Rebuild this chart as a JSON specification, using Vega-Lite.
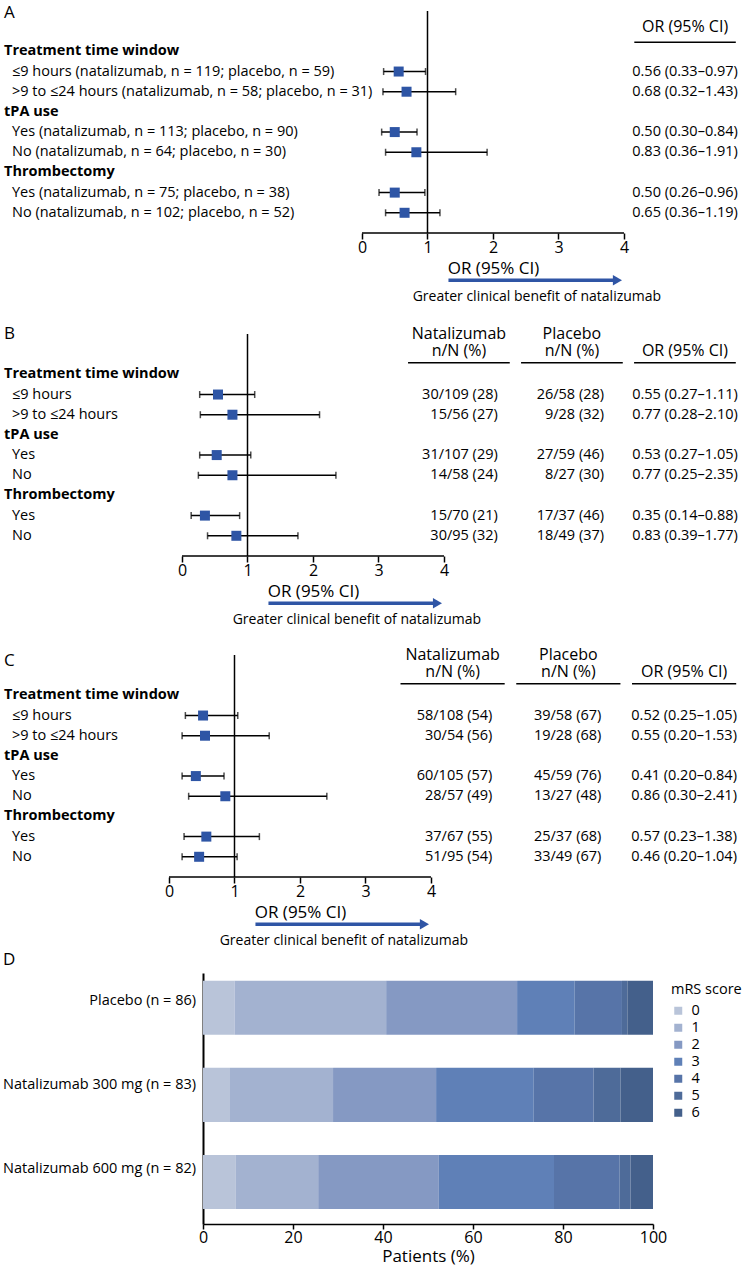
{
"$schema": "https://vega.github.io/schema/vega-lite/v6.json",
"padding": {"left": 3, "top": 4, "right": 2, "bottom": 2},
"background": "white",
"datasets": {
"A": [
{"row":"r1","label":"Treatment time window","bold":true},
{"row":"r2","label":"≤9 hours (natalizumab, n = 119; placebo, n = 59)","bold":false,"or":0.56,"lo":0.33,"hi":0.97,"ci":"0.56 (0.33–0.97)"},
{"row":"r3","label":">9 to ≤24 hours (natalizumab, n = 58; placebo, n = 31)","bold":false,"or":0.68,"lo":0.32,"hi":1.43,"ci":"0.68 (0.32–1.43)"},
{"row":"r4","label":"tPA use","bold":true},
{"row":"r5","label":"Yes (natalizumab, n = 113; placebo, n = 90)","bold":false,"or":0.50,"lo":0.30,"hi":0.84,"ci":"0.50 (0.30–0.84)"},
{"row":"r6","label":"No (natalizumab, n = 64; placebo, n = 30)","bold":false,"or":0.83,"lo":0.36,"hi":1.91,"ci":"0.83 (0.36–1.91)"},
{"row":"r7","label":"Thrombectomy","bold":true},
{"row":"r8","label":"Yes (natalizumab, n = 75; placebo, n = 38)","bold":false,"or":0.50,"lo":0.26,"hi":0.96,"ci":"0.50 (0.26–0.96)"},
{"row":"r9","label":"No (natalizumab, n = 102; placebo, n = 52)","bold":false,"or":0.65,"lo":0.36,"hi":1.19,"ci":"0.65 (0.36–1.19)"}
],
"B": [
{"row":"r1","label":"Treatment time window","bold":true},
{"row":"r2","label":"≤9 hours","bold":false,"or":0.55,"lo":0.27,"hi":1.11,"nat":"30/109 (28)","plac":"26/58 (28)","ci":"0.55 (0.27–1.11)"},
{"row":"r3","label":">9 to ≤24 hours","bold":false,"or":0.77,"lo":0.28,"hi":2.10,"nat":"15/56 (27)","plac":"9/28 (32)","ci":"0.77 (0.28–2.10)"},
{"row":"r4","label":"tPA use","bold":true},
{"row":"r5","label":"Yes","bold":false,"or":0.53,"lo":0.27,"hi":1.05,"nat":"31/107 (29)","plac":"27/59 (46)","ci":"0.53 (0.27–1.05)"},
{"row":"r6","label":"No","bold":false,"or":0.77,"lo":0.25,"hi":2.35,"nat":"14/58 (24)","plac":"8/27 (30)","ci":"0.77 (0.25–2.35)"},
{"row":"r7","label":"Thrombectomy","bold":true},
{"row":"r8","label":"Yes","bold":false,"or":0.35,"lo":0.14,"hi":0.88,"nat":"15/70 (21)","plac":"17/37 (46)","ci":"0.35 (0.14–0.88)"},
{"row":"r9","label":"No","bold":false,"or":0.83,"lo":0.39,"hi":1.77,"nat":"30/95 (32)","plac":"18/49 (37)","ci":"0.83 (0.39–1.77)"}
],
"C": [
{"row":"r1","label":"Treatment time window","bold":true},
{"row":"r2","label":"≤9 hours","bold":false,"or":0.52,"lo":0.25,"hi":1.05,"nat":"58/108 (54)","plac":"39/58 (67)","ci":"0.52 (0.25–1.05)"},
{"row":"r3","label":">9 to ≤24 hours","bold":false,"or":0.55,"lo":0.20,"hi":1.53,"nat":"30/54 (56)","plac":"19/28 (68)","ci":"0.55 (0.20–1.53)"},
{"row":"r4","label":"tPA use","bold":true},
{"row":"r5","label":"Yes","bold":false,"or":0.41,"lo":0.20,"hi":0.84,"nat":"60/105 (57)","plac":"45/59 (76)","ci":"0.41 (0.20–0.84)"},
{"row":"r6","label":"No","bold":false,"or":0.86,"lo":0.30,"hi":2.41,"nat":"28/57 (49)","plac":"13/27 (48)","ci":"0.86 (0.30–2.41)"},
{"row":"r7","label":"Thrombectomy","bold":true},
{"row":"r8","label":"Yes","bold":false,"or":0.57,"lo":0.23,"hi":1.38,"nat":"37/67 (55)","plac":"25/37 (68)","ci":"0.57 (0.23–1.38)"},
{"row":"r9","label":"No","bold":false,"or":0.46,"lo":0.20,"hi":1.04,"nat":"51/95 (54)","plac":"33/49 (67)","ci":"0.46 (0.20–1.04)"}
],
"hdrA": [{"col":"or","t":"OR (95% CI)"}],
"hdrBC": [{"col":"nat","t":"Natalizumab\nn/N (%)"},{"col":"plac","t":"Placebo\nn/N (%)"},{"col":"or","t":"OR (95% CI)"}],
"caption": [{"caption":"Greater clinical benefit of natalizumab"}],
"ref": [{"ref":1}],
"D": [
{"group":"Placebo (n = 86)","score":0,"pct":7.0},
{"group":"Placebo (n = 86)","score":1,"pct":33.7},
{"group":"Placebo (n = 86)","score":2,"pct":29.1},
{"group":"Placebo (n = 86)","score":3,"pct":12.8},
{"group":"Placebo (n = 86)","score":4,"pct":10.5},
{"group":"Placebo (n = 86)","score":5,"pct":1.2},
{"group":"Placebo (n = 86)","score":6,"pct":5.7},
{"group":"Natalizumab 300 mg (n = 83)","score":0,"pct":6.0},
{"group":"Natalizumab 300 mg (n = 83)","score":1,"pct":22.9},
{"group":"Natalizumab 300 mg (n = 83)","score":2,"pct":22.9},
{"group":"Natalizumab 300 mg (n = 83)","score":3,"pct":21.7},
{"group":"Natalizumab 300 mg (n = 83)","score":4,"pct":13.3},
{"group":"Natalizumab 300 mg (n = 83)","score":5,"pct":6.0},
{"group":"Natalizumab 300 mg (n = 83)","score":6,"pct":7.2},
{"group":"Natalizumab 600 mg (n = 82)","score":0,"pct":7.3},
{"group":"Natalizumab 600 mg (n = 82)","score":1,"pct":18.3},
{"group":"Natalizumab 600 mg (n = 82)","score":2,"pct":26.8},
{"group":"Natalizumab 600 mg (n = 82)","score":3,"pct":25.6},
{"group":"Natalizumab 600 mg (n = 82)","score":4,"pct":14.6},
{"group":"Natalizumab 600 mg (n = 82)","score":5,"pct":2.4},
{"group":"Natalizumab 600 mg (n = 82)","score":6,"pct":5.0}
]
},
"spacing": 3,
"resolve": {"scale": {"color": "independent"}, "legend": {"color": "independent"}},
"vconcat": [
{"spacing": 21, "vconcat": [
{"title": {"text": "A", "offset": -12}, "spacing": 0, "bounds": "flush", "hconcat": [
  {"width": 357.7, "height": 282.5, "data": {"name": "A"},
   "layer": [
    {"transform": [{"filter": "datum.bold"}], "mark": {"type": "text", "align": "left", "fontWeight": "bold"},
     "encoding": {"x": {"datum": 0, "type": "quantitative", "scale": {"domain": [0, 1]}, "axis": null}, "y": {"field": "row", "type": "nominal", "scale": {"type": "point", "domain": ["top","h","r1","r2","r3","r4","r5","r6","r7","r8","r9","bot","gap","arrow","cap"], "padding": 0}, "axis": null}, "text": {"field": "label"}}},
    {"transform": [{"filter": "!datum.bold"}], "mark": {"type": "text", "align": "left", "dx": 8},
     "encoding": {"x": {"datum": 0, "type": "quantitative"}, "y": {"field": "row", "type": "nominal"}, "text": {"field": "label"}}}
   ]},
  {"width": 373.8, "height": 282.5,
   "resolve": {"scale": {"x": "independent"}, "axis": {"x": "independent"}},
   "layer": [
    {"layer": [
     {"data": {"name": "ref"}, "mark": {"type": "rule", "color": "black", "strokeWidth": 1.5},
      "encoding": {"x": {"field": "ref", "type": "quantitative", "title": "OR (95% CI)", "scale": {"domain": [0, 5.707], "nice": false, "zero": false}, "axis": {"values": [0,1,2,3,4], "format": "d", "domain": false, "tickSize": 6, "labelPadding": 0, "titlePadding": 5, "labelFlush": false, "offset": -60.5, "titleX": 131}},
       "y": {"datum": "top", "type": "nominal", "scale": {"type": "point", "domain": ["top","h","r1","r2","r3","r4","r5","r6","r7","r8","r9","bot","gap","arrow","cap"], "padding": 0}, "axis": null}, "y2": {"datum": "bot"}}},
     {"data": {"name": "ref"}, "mark": {"type": "rule", "color": "black", "strokeWidth": 1.5},
      "encoding": {"x": {"datum": 0, "type": "quantitative"}, "x2": {"datum": 4}, "y": {"datum": "bot", "type": "nominal"}}},
     {"data": {"name": "A"}, "transform": [{"filter": "isValid(datum.or)"}], "mark": {"type": "rule", "color": "black", "strokeWidth": 1.5},
      "encoding": {"x": {"field": "lo", "type": "quantitative", "title": "OR (95% CI)"}, "x2": {"field": "hi"}, "y": {"field": "row", "type": "nominal"}}},
     {"data": {"name": "A"}, "transform": [{"filter": "isValid(datum.or)"}], "mark": {"type": "tick", "color": "black", "thickness": 1.5, "size": 7, "orient": "vertical"},
      "encoding": {"x": {"field": "lo", "type": "quantitative", "title": "OR (95% CI)"}, "y": {"field": "row", "type": "nominal"}}},
     {"data": {"name": "A"}, "transform": [{"filter": "isValid(datum.or)"}], "mark": {"type": "tick", "color": "black", "thickness": 1.5, "size": 7, "orient": "vertical"},
      "encoding": {"x": {"field": "hi", "type": "quantitative", "title": "OR (95% CI)"}, "y": {"field": "row", "type": "nominal"}}},
     {"data": {"name": "A"}, "transform": [{"filter": "isValid(datum.or)"}], "mark": {"type": "point", "shape": "square", "filled": true, "size": 100, "color": "#2e55a5", "opacity": 1},
      "encoding": {"x": {"field": "or", "type": "quantitative", "title": "OR (95% CI)"}, "y": {"field": "row", "type": "nominal"}}},
     {"data": {"name": "caption"}, "mark": {"type": "rule", "color": "#2f55a5", "strokeWidth": 3.5, "yOffset": 7},
      "encoding": {"x": {"datum": 1.32, "type": "quantitative"}, "x2": {"datum": 3.88}, "y": {"datum": "arrow", "type": "nominal"}}},
     {"data": {"name": "caption"}, "mark": {"type": "point", "shape": "triangle-right", "filled": true, "size": 110, "color": "#2f55a5", "opacity": 1, "yOffset": 7},
      "encoding": {"x": {"datum": 3.9, "type": "quantitative"}, "y": {"datum": "arrow", "type": "nominal"}}},
     {"data": {"name": "caption"}, "mark": {"type": "text", "fontSize": 14, "dy": 3.5},
      "encoding": {"x": {"datum": 2.67, "type": "quantitative"}, "y": {"datum": "cap", "type": "nominal"}, "text": {"field": "caption"}}}
    ]},
    {"layer": [
     {"data": {"name": "hdrA"}, "mark": {"type": "text", "baseline": "top", "fontSize": 16, "dy": -12.1},
      "encoding": {"x": {"field": "col", "type": "nominal", "scale": {"type": "band", "domain": ["nat","plac","or"], "paddingInner": 0.1, "paddingOuter": 0.2075, "align": 1}, "axis": null}, "y": {"datum": "h", "type": "nominal"}, "text": {"field": "t"}}},
     {"data": {"name": "hdrA"}, "mark": {"type": "bar", "height": 1.5, "yOffset": 11, "color": "black"},
      "encoding": {"x": {"field": "col", "type": "nominal"}, "y": {"datum": "h", "type": "nominal"}}},
     {"data": {"name": "A"}, "transform": [{"filter": "isValid(datum.ci)"}], "mark": {"type": "text"},
      "encoding": {"x": {"datum": "or", "type": "nominal"}, "y": {"field": "row", "type": "nominal"}, "text": {"field": "ci"}}}
    ]}
   ]}
]},
{"spacing": 20, "vconcat": [
{"title": {"text": "B", "offset": -17}, "spacing": 0, "bounds": "flush", "hconcat": [
  {"width": 177.7, "height": 282.5, "data": {"name": "B"},
   "layer": [
    {"transform": [{"filter": "datum.bold"}], "mark": {"type": "text", "align": "left", "fontWeight": "bold"},
     "encoding": {"x": {"datum": 0, "type": "quantitative", "scale": {"domain": [0, 1]}, "axis": null}, "y": {"field": "row", "type": "nominal", "scale": {"type": "point", "domain": ["top","h","r1","r2","r3","r4","r5","r6","r7","r8","r9","bot","gap","arrow","cap"], "padding": 0}, "axis": null}, "text": {"field": "label"}}},
    {"transform": [{"filter": "!datum.bold"}], "mark": {"type": "text", "align": "left", "dx": 8},
     "encoding": {"x": {"datum": 0, "type": "quantitative"}, "y": {"field": "row", "type": "nominal"}, "text": {"field": "label"}}}
   ]},
  {"width": 553.8, "height": 282.5,
   "resolve": {"scale": {"x": "independent"}, "axis": {"x": "independent"}},
   "layer": [
    {"layer": [
     {"data": {"name": "ref"}, "mark": {"type": "rule", "color": "black", "strokeWidth": 1.5},
      "encoding": {"x": {"field": "ref", "type": "quantitative", "title": "OR (95% CI)", "scale": {"domain": [0, 8.455], "nice": false, "zero": false}, "axis": {"values": [0,1,2,3,4], "format": "d", "domain": false, "tickSize": 6, "labelPadding": 0, "titlePadding": 5, "labelFlush": false, "offset": -60.5, "titleX": 131}},
       "y": {"datum": "top", "type": "nominal", "scale": {"type": "point", "domain": ["top","h","r1","r2","r3","r4","r5","r6","r7","r8","r9","bot","gap","arrow","cap"], "padding": 0}, "axis": null}, "y2": {"datum": "bot"}}},
     {"data": {"name": "ref"}, "mark": {"type": "rule", "color": "black", "strokeWidth": 1.5},
      "encoding": {"x": {"datum": 0, "type": "quantitative"}, "x2": {"datum": 4}, "y": {"datum": "bot", "type": "nominal"}}},
     {"data": {"name": "B"}, "transform": [{"filter": "isValid(datum.or)"}], "mark": {"type": "rule", "color": "black", "strokeWidth": 1.5},
      "encoding": {"x": {"field": "lo", "type": "quantitative", "title": "OR (95% CI)"}, "x2": {"field": "hi"}, "y": {"field": "row", "type": "nominal"}}},
     {"data": {"name": "B"}, "transform": [{"filter": "isValid(datum.or)"}], "mark": {"type": "tick", "color": "black", "thickness": 1.5, "size": 7, "orient": "vertical"},
      "encoding": {"x": {"field": "lo", "type": "quantitative", "title": "OR (95% CI)"}, "y": {"field": "row", "type": "nominal"}}},
     {"data": {"name": "B"}, "transform": [{"filter": "isValid(datum.or)"}], "mark": {"type": "tick", "color": "black", "thickness": 1.5, "size": 7, "orient": "vertical"},
      "encoding": {"x": {"field": "hi", "type": "quantitative", "title": "OR (95% CI)"}, "y": {"field": "row", "type": "nominal"}}},
     {"data": {"name": "B"}, "transform": [{"filter": "isValid(datum.or)"}], "mark": {"type": "point", "shape": "square", "filled": true, "size": 100, "color": "#2e55a5", "opacity": 1},
      "encoding": {"x": {"field": "or", "type": "quantitative", "title": "OR (95% CI)"}, "y": {"field": "row", "type": "nominal"}}},
     {"data": {"name": "caption"}, "mark": {"type": "rule", "color": "#2f55a5", "strokeWidth": 3.5, "yOffset": 7},
      "encoding": {"x": {"datum": 1.32, "type": "quantitative"}, "x2": {"datum": 3.88}, "y": {"datum": "arrow", "type": "nominal"}}},
     {"data": {"name": "caption"}, "mark": {"type": "point", "shape": "triangle-right", "filled": true, "size": 110, "color": "#2f55a5", "opacity": 1, "yOffset": 7},
      "encoding": {"x": {"datum": 3.9, "type": "quantitative"}, "y": {"datum": "arrow", "type": "nominal"}}},
     {"data": {"name": "caption"}, "mark": {"type": "text", "fontSize": 14, "dy": 3.5},
      "encoding": {"x": {"datum": 2.67, "type": "quantitative"}, "y": {"datum": "cap", "type": "nominal"}, "text": {"field": "caption"}}}
    ]},
    {"layer": [
     {"data": {"name": "hdrBC"}, "transform": [{"filter": "datum.col != 'or'"}], "mark": {"type": "text", "baseline": "top", "fontSize": 16, "lineBreak": "\n", "lineHeight": 17, "dy": -28.1},
      "encoding": {"x": {"field": "col", "type": "nominal", "scale": {"type": "band", "domain": ["nat","plac","or"], "paddingInner": 0.1, "paddingOuter": 1.0057, "align": 1}, "axis": null}, "y": {"datum": "h", "type": "nominal"}, "text": {"field": "t"}}},
     {"data": {"name": "hdrBC"}, "transform": [{"filter": "datum.col == 'or'"}], "mark": {"type": "text", "baseline": "top", "fontSize": 16, "dy": -11.1},
      "encoding": {"x": {"field": "col", "type": "nominal"}, "y": {"datum": "h", "type": "nominal"}, "text": {"field": "t"}}},
     {"data": {"name": "hdrBC"}, "mark": {"type": "bar", "height": 1.5, "yOffset": 8.5, "color": "black"},
      "encoding": {"x": {"field": "col", "type": "nominal"}, "y": {"datum": "h", "type": "nominal"}}},
     {"data": {"name": "B"}, "transform": [{"filter": "isValid(datum.nat)"}], "mark": {"type": "text", "align": "right"},
      "encoding": {"x": {"datum": "nat", "type": "nominal", "bandPosition": 0.882}, "y": {"field": "row", "type": "nominal"}, "text": {"field": "nat"}}},
     {"data": {"name": "B"}, "transform": [{"filter": "isValid(datum.plac)"}], "mark": {"type": "text", "align": "right"},
      "encoding": {"x": {"datum": "plac", "type": "nominal", "bandPosition": 0.816}, "y": {"field": "row", "type": "nominal"}, "text": {"field": "plac"}}},
     {"data": {"name": "B"}, "transform": [{"filter": "isValid(datum.ci)"}], "mark": {"type": "text"},
      "encoding": {"x": {"datum": "or", "type": "nominal"}, "y": {"field": "row", "type": "nominal"}, "text": {"field": "ci"}}}
    ]}
   ]}
]},
{"title": {"text": "C", "offset": -23}, "spacing": 0, "bounds": "flush", "hconcat": [
  {"width": 164.3, "height": 282.5, "data": {"name": "C"},
   "layer": [
    {"transform": [{"filter": "datum.bold"}], "mark": {"type": "text", "align": "left", "fontWeight": "bold"},
     "encoding": {"x": {"datum": 0, "type": "quantitative", "scale": {"domain": [0, 1]}, "axis": null}, "y": {"field": "row", "type": "nominal", "scale": {"type": "point", "domain": ["top","h","r1","r2","r3","r4","r5","r6","r7","r8","r9","bot","gap","arrow","cap"], "padding": 0}, "axis": null}, "text": {"field": "label"}}},
    {"transform": [{"filter": "!datum.bold"}], "mark": {"type": "text", "align": "left", "dx": 8},
     "encoding": {"x": {"datum": 0, "type": "quantitative"}, "y": {"field": "row", "type": "nominal"}, "text": {"field": "label"}}}
   ]},
  {"width": 567.2, "height": 282.5,
   "resolve": {"scale": {"x": "independent"}, "axis": {"x": "independent"}},
   "layer": [
    {"layer": [
     {"data": {"name": "ref"}, "mark": {"type": "rule", "color": "black", "strokeWidth": 1.5},
      "encoding": {"x": {"field": "ref", "type": "quantitative", "title": "OR (95% CI)", "scale": {"domain": [0, 8.66], "nice": false, "zero": false}, "axis": {"values": [0,1,2,3,4], "format": "d", "domain": false, "tickSize": 6, "labelPadding": 0, "titlePadding": 5, "labelFlush": false, "offset": -60.5, "titleX": 131}},
       "y": {"datum": "top", "type": "nominal", "scale": {"type": "point", "domain": ["top","h","r1","r2","r3","r4","r5","r6","r7","r8","r9","bot","gap","arrow","cap"], "padding": 0}, "axis": null}, "y2": {"datum": "bot"}}},
     {"data": {"name": "ref"}, "mark": {"type": "rule", "color": "black", "strokeWidth": 1.5},
      "encoding": {"x": {"datum": 0, "type": "quantitative"}, "x2": {"datum": 4}, "y": {"datum": "bot", "type": "nominal"}}},
     {"data": {"name": "C"}, "transform": [{"filter": "isValid(datum.or)"}], "mark": {"type": "rule", "color": "black", "strokeWidth": 1.5},
      "encoding": {"x": {"field": "lo", "type": "quantitative", "title": "OR (95% CI)"}, "x2": {"field": "hi"}, "y": {"field": "row", "type": "nominal"}}},
     {"data": {"name": "C"}, "transform": [{"filter": "isValid(datum.or)"}], "mark": {"type": "tick", "color": "black", "thickness": 1.5, "size": 7, "orient": "vertical"},
      "encoding": {"x": {"field": "lo", "type": "quantitative", "title": "OR (95% CI)"}, "y": {"field": "row", "type": "nominal"}}},
     {"data": {"name": "C"}, "transform": [{"filter": "isValid(datum.or)"}], "mark": {"type": "tick", "color": "black", "thickness": 1.5, "size": 7, "orient": "vertical"},
      "encoding": {"x": {"field": "hi", "type": "quantitative", "title": "OR (95% CI)"}, "y": {"field": "row", "type": "nominal"}}},
     {"data": {"name": "C"}, "transform": [{"filter": "isValid(datum.or)"}], "mark": {"type": "point", "shape": "square", "filled": true, "size": 100, "color": "#2e55a5", "opacity": 1},
      "encoding": {"x": {"field": "or", "type": "quantitative", "title": "OR (95% CI)"}, "y": {"field": "row", "type": "nominal"}}},
     {"data": {"name": "caption"}, "mark": {"type": "rule", "color": "#2f55a5", "strokeWidth": 3.5, "yOffset": 7},
      "encoding": {"x": {"datum": 1.32, "type": "quantitative"}, "x2": {"datum": 3.88}, "y": {"datum": "arrow", "type": "nominal"}}},
     {"data": {"name": "caption"}, "mark": {"type": "point", "shape": "triangle-right", "filled": true, "size": 110, "color": "#2f55a5", "opacity": 1, "yOffset": 7},
      "encoding": {"x": {"datum": 3.9, "type": "quantitative"}, "y": {"datum": "arrow", "type": "nominal"}}},
     {"data": {"name": "caption"}, "mark": {"type": "text", "fontSize": 14, "dy": 3.5},
      "encoding": {"x": {"datum": 2.67, "type": "quantitative"}, "y": {"datum": "cap", "type": "nominal"}, "text": {"field": "caption"}}}
    ]},
    {"layer": [
     {"data": {"name": "hdrBC"}, "transform": [{"filter": "datum.col != 'or'"}], "mark": {"type": "text", "baseline": "top", "fontSize": 16, "lineBreak": "\n", "lineHeight": 17, "dy": -28.1},
      "encoding": {"x": {"field": "col", "type": "nominal", "scale": {"type": "band", "domain": ["nat","plac","or"], "paddingInner": 0.1, "paddingOuter": 1.065, "align": 1}, "axis": null}, "y": {"datum": "h", "type": "nominal"}, "text": {"field": "t"}}},
     {"data": {"name": "hdrBC"}, "transform": [{"filter": "datum.col == 'or'"}], "mark": {"type": "text", "baseline": "top", "fontSize": 16, "dy": -11.1},
      "encoding": {"x": {"field": "col", "type": "nominal"}, "y": {"datum": "h", "type": "nominal"}, "text": {"field": "t"}}},
     {"data": {"name": "hdrBC"}, "mark": {"type": "bar", "height": 1.5, "yOffset": 8.5, "color": "black"},
      "encoding": {"x": {"field": "col", "type": "nominal"}, "y": {"datum": "h", "type": "nominal"}}},
     {"data": {"name": "C"}, "transform": [{"filter": "isValid(datum.nat)"}], "mark": {"type": "text", "align": "right"},
      "encoding": {"x": {"datum": "nat", "type": "nominal", "bandPosition": 0.882}, "y": {"field": "row", "type": "nominal"}, "text": {"field": "nat"}}},
     {"data": {"name": "C"}, "transform": [{"filter": "isValid(datum.plac)"}], "mark": {"type": "text", "align": "right"},
      "encoding": {"x": {"datum": "plac", "type": "nominal", "bandPosition": 0.816}, "y": {"field": "row", "type": "nominal"}, "text": {"field": "plac"}}},
     {"data": {"name": "C"}, "transform": [{"filter": "isValid(datum.ci)"}], "mark": {"type": "text"},
      "encoding": {"x": {"datum": "or", "type": "nominal"}, "y": {"field": "row", "type": "nominal"}, "text": {"field": "ci"}}}
    ]}
   ]}
]}
]}
]},
{"title": {"text": "D", "offset": 4}, "spacing": 7, "bounds": "flush",
 "resolve": {"scale": {"color": "independent"}, "legend": {"color": "independent"}},
 "hconcat": [
 {"width": 192, "height": 251, "data": {"name": "D"}, "transform": [{"filter": "datum.score == 0"}],
  "mark": {"type": "text", "align": "right"},
  "encoding": {"x": {"datum": 1, "type": "quantitative", "scale": {"domain": [0, 1]}, "axis": null},
   "y": {"field": "group", "type": "nominal", "sort": ["Placebo (n = 86)", "Natalizumab 300 mg (n = 83)", "Natalizumab 600 mg (n = 82)"], "scale": {"paddingInner": 0.38, "paddingOuter": 0.13, "align": 0.34}, "axis": null},
   "text": {"field": "group"}}},
 {"width": 450, "height": 251, "data": {"name": "D"},
  "mark": {"type": "bar"},
  "encoding": {
   "y": {"field": "group", "type": "nominal", "sort": ["Placebo (n = 86)", "Natalizumab 300 mg (n = 83)", "Natalizumab 600 mg (n = 82)"], "scale": {"paddingInner": 0.38, "paddingOuter": 0.13, "align": 0.34}, "axis": {"title": null, "ticks": false, "labels": false, "domainWidth": 2}},
   "x": {"field": "pct", "type": "quantitative", "stack": "zero", "scale": {"domain": [0, 100], "nice": false}, "axis": {"values": [0,20,40,60,80,100], "title": "Patients (%)", "tickSize": 5, "labelPadding": 0, "titlePadding": 3, "labelFlush": false}},
   "color": {"field": "score", "type": "ordinal", "scale": {"domain": [0,1,2,3,4,5,6], "range": ["#b9c4d9","#a3b2d0","#8599c3","#5f80b7","#5774a8","#4e6b99","#44608b"]},
    "legend": {"title": "mRS score", "orient": "right", "offset": 8, "padding": 10, "symbolType": "square", "symbolSize": 64, "symbolStrokeWidth": 0, "labelFontSize": 14.5, "titleFontSize": 14.5, "titleFontWeight": "normal", "rowPadding": 2, "labelOffset": 6, "titlePadding": 6, "labelColor": "black", "titleColor": "black"}},
   "order": {"field": "score", "type": "quantitative", "sort": "ascending"}
  }}
]}
],
"config": {
 "view": {"stroke": null},
 "font": "Open Sans",
 "text": {"fontSize": 14.5, "color": "black"},
 "axis": {"labelColor": "black", "titleColor": "black", "domainColor": "black", "tickColor": "black", "grid": false, "titleFontWeight": "normal", "labelFontSize": 16, "titleFontSize": 17, "domainWidth": 1.5, "tickWidth": 1.5},
 "title": {"fontWeight": "normal", "fontSize": 17, "anchor": "start", "color": "black"}
}
}
